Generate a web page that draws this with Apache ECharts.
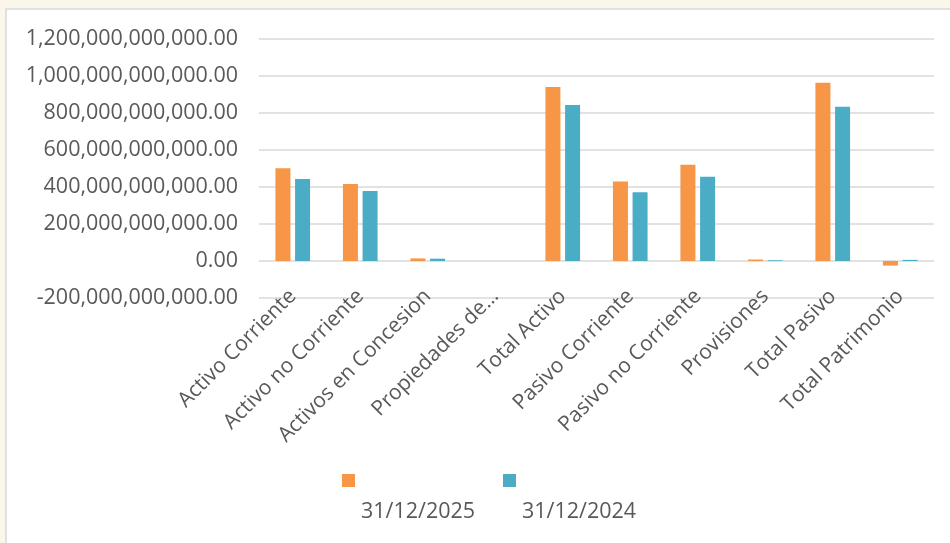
<!DOCTYPE html>
<html>
<head>
<meta charset="utf-8">
<script src="https://cdn.jsdelivr.net/npm/echarts@6/dist/echarts.min.js"></script>
<style>
html,body{margin:0;padding:0;background:#fbf6ea;}
#chart{width:950px;height:543px;}
</style>
</head>
<body>
<div id="chart"></div>
<script>
const categories = ['Activo Corriente','Activo no Corriente','Activos en Concesion','Propiedades de…','Total Activo','Pasivo Corriente','Pasivo no Corriente','Provisiones','Total Pasivo','Total Patrimonio'];
const seriesNames = ['31/12/2025','31/12/2024'];
const values2025 = [501e9, 416e9, 14e9, 0, 940e9, 430e9, 520e9, 8e9, 964e9, -25e9];
const values2024 = [443e9, 378e9, 12.5e9, 0, 843e9, 371e9, 456e9, 4e9, 834e9, 6e9];
const yMin = -200e9, yMax = 1200e9, yStep = 200e9;

function fmt(v){
  const s = Math.abs(v).toFixed(2);
  const parts = s.split('.');
  parts[0] = parts[0].replace(/\B(?=(\d{3})+(?!\d))/g, ',');
  return (v < 0 ? '-' : '') + parts.join('.');
}

const colors = ['#F79646','#4BACC6'];
const font = 'Open Sans';
const chart = echarts.init(document.getElementById('chart'));
chart.setOption({
  animation:false,
  textStyle:{fontFamily:font},
  graphic:[{type:'rect', z:-10, silent:true, shape:{x:6,y:9,width:960,height:560}, style:{fill:'#ffffff', stroke:'#d9d9d9', lineWidth:1.5}}],
  grid:{left:259, right:16, top:39, bottom:245, containLabel:false},
  legend:[
    {data:[seriesNames[0]], left:342, top:474, padding:0, itemWidth:13, itemHeight:13, icon:'rect', formatter:()=>'', itemGap:0},
    {data:[seriesNames[1]], left:503, top:474, padding:0, itemWidth:13, itemHeight:13, icon:'rect', formatter:()=>'', itemGap:0},
    {data:[seriesNames[0]], left:356, top:501, padding:0, itemWidth:0, itemHeight:0, icon:'rect', textStyle:{fontFamily:font, fontSize:21.5, color:'#595959'}},
    {data:[seriesNames[1]], left:517, top:501, padding:0, itemWidth:0, itemHeight:0, icon:'rect', textStyle:{fontFamily:font, fontSize:21.5, color:'#595959'}}
  ],
  xAxis:{
    type:'category', data:categories,
    axisLine:{show:false}, axisTick:{show:false},
    axisLabel:{interval:0, rotate:45, margin:-5, fontFamily:font, fontSize:21, color:'#595959'}
  },
  yAxis:{
    type:'value', min:yMin, max:yMax, interval:yStep,
    axisLine:{show:false}, axisTick:{show:false},
    splitLine:{lineStyle:{color:'#d9d9d9', width:1.5}},
    axisLabel:{margin:21, fontFamily:font, fontSize:21.5, color:'#595959', formatter:fmt}
  },
  series:[
    {name:seriesNames[0], type:'bar', data:values2025, barWidth:15, barGap:'31%', itemStyle:{color:colors[0]}},
    {name:seriesNames[1], type:'bar', data:values2024, barWidth:15, barGap:'31%', itemStyle:{color:colors[1]}}
  ]
});
</script>
</body>
</html>
